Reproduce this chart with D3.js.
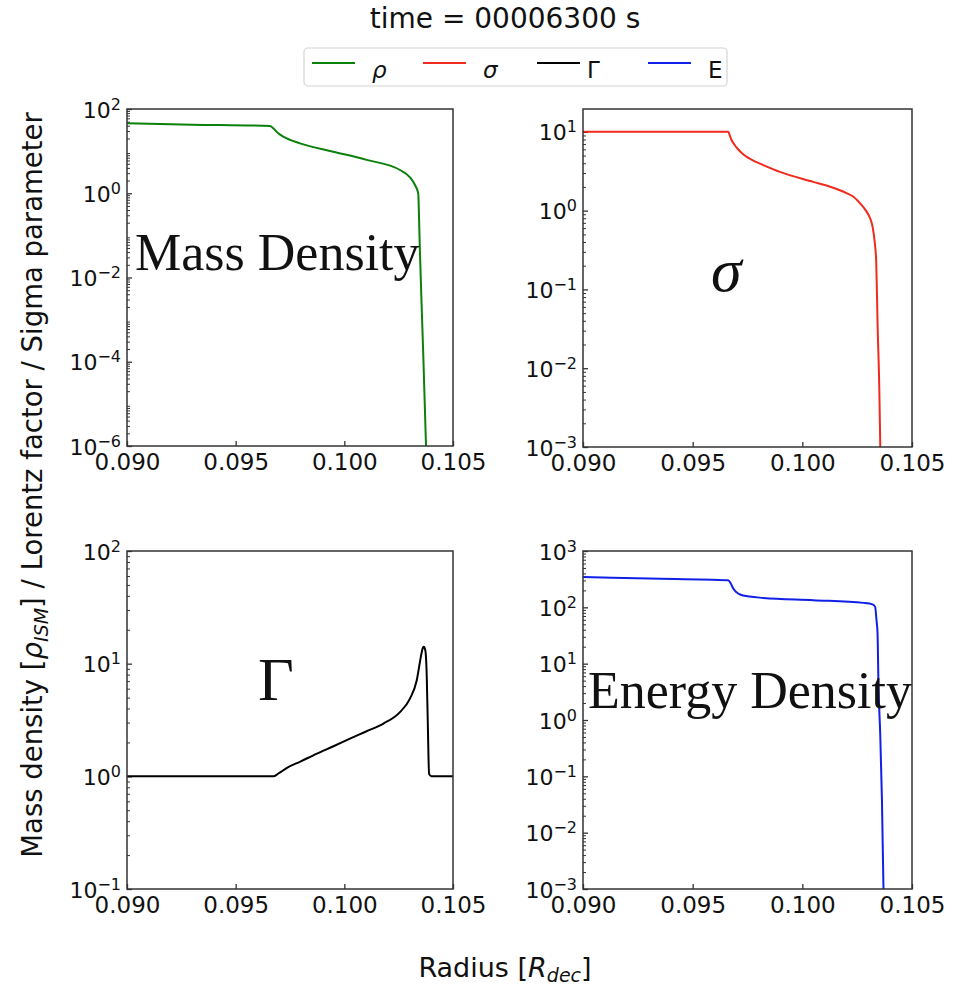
<!doctype html>
<html>
<head>
<meta charset="utf-8">
<script src="https://cdn.jsdelivr.net/npm/d3@7"></script>
<style>
  body { margin: 0; background: #fff; }
  svg text { font-family: "DejaVu Sans", sans-serif; fill: #111; }
</style>
</head>
<body>
<svg id="chart" width="969" height="988"></svg>
<script>
// --- data (radius in R_dec) ---
const xTicks = [0.090, 0.095, 0.100, 0.105];

const rhoR = [0.0900, 0.0930, 0.09658, 0.09673, 0.09696, 0.09719, 0.09796, 0.09949, 0.10103, 0.10256, 0.10302, 0.10325, 0.10340, 0.10344, 0.10348, 0.10363, 0.10375, 0.10390];
const rhoV = [45.7, 42.5, 39.5, 34.8, 26.5, 22, 15.3, 9.7, 6.2, 3.56, 2.39, 1.57, 1.0, 0.23, 0.038, 1.6e-4, 1.4e-6, 1e-8];

const sigR = [0.0900, 0.09662, 0.09668, 0.09676, 0.09690, 0.09705, 0.09730, 0.09770, 0.09822, 0.09898, 0.10050, 0.10127, 0.10203, 0.10233, 0.10264, 0.10290, 0.10308, 0.10320, 0.10330, 0.10337, 0.10343, 0.10351, 0.10356, 0.10362];
const sigV = [10, 10, 9.2, 8.0, 6.9, 6.1, 5.2, 4.4, 3.79, 3.1, 2.32, 2.01, 1.66, 1.5, 1.23, 1.0, 0.81, 0.63, 0.4, 0.22, 0.037, 0.0054, 0.0008, 1e-4];

const gamR = [0.0900, 0.09675, 0.09700, 0.09736, 0.09800, 0.09874, 0.09950, 0.10026, 0.10100, 0.10180, 0.10256, 0.10302, 0.10333, 0.10352, 0.10360, 0.10366, 0.10373, 0.10379, 0.10384, 0.10390, 0.10400, 0.1050];
const gamV = [1, 1, 1.07, 1.19, 1.36, 1.59, 1.85, 2.16, 2.5, 2.94, 3.72, 4.9, 7.1, 11.5, 13.6, 14.1, 13.0, 8, 3, 1.05, 1.0, 1.0];

const eR = [0.0900, 0.0930, 0.09662, 0.09675, 0.09685, 0.09700, 0.09716, 0.09760, 0.09822, 0.10051, 0.10279, 0.10320, 0.10332, 0.10338, 0.10343, 0.10347, 0.10355, 0.10363, 0.10370, 0.10376];
const eV = [346, 325, 302, 260, 215, 185, 169, 155, 147, 134, 120, 113, 102, 60, 34, 4.5, 0.58, 0.038, 1e-3, 2e-4];

const legendNames = ["ρ", "σ", "Γ", "E"];
const colors = ["#0b800b", "#f02a1c", "#000000", "#1020e6"];

// panel layout
const panels = [
  { x: 127, y: 109, w: 326, h: 337, r: rhoR, v: rhoV, c: colors[0], ydom: [1e-6, 1e2], major: [-6, -4, -2, 0, 2],
    note: "Mass Density", nx: 135, ny: 270, ns: 52, italic: false },
  { x: 583, y: 109, w: 329, h: 338, r: sigR, v: sigV, c: colors[1], ydom: [1e-3, Math.pow(10, 1.29)], major: [-3, -2, -1, 0, 1],
    note: "σ", nx: 711, ny: 291, ns: 62, italic: true },
  { x: 127, y: 551, w: 326, h: 338, r: gamR, v: gamV, c: colors[2], ydom: [1e-1, 1e2], major: [-1, 0, 1, 2],
    note: "Γ", nx: 258, ny: 700, ns: 62, italic: false },
  { x: 583, y: 551, w: 329, h: 338, r: eR, v: eV, c: colors[3], ydom: [1e-3, 1e3], major: [-3, -2, -1, 0, 1, 2, 3],
    note: "Energy Density", nx: 588, ny: 708, ns: 52, italic: false }
];

const svg = d3.select("#chart");

panels.forEach((p, i) => {
  const g = svg.append("g").attr("transform", `translate(${p.x},${p.y})`);
  const x = d3.scaleLinear().domain([0.090, 0.105]).range([0, p.w]);
  const y = d3.scaleLog().domain(p.ydom).range([p.h, 0]);

  g.append("clipPath").attr("id", "clip" + i)
    .append("rect").attr("width", p.w).attr("height", p.h);

  // minor log ticks
  const minors = [];
  for (let e = Math.floor(Math.log10(p.ydom[0])); e <= Math.ceil(Math.log10(p.ydom[1])); e++) {
    for (let s = 2; s <= 9; s++) {
      const val = s * Math.pow(10, e);
      if (val > p.ydom[0] && val < p.ydom[1]) minors.push(val);
    }
  }
  g.append("g")
    .call(d3.axisLeft(y).tickValues(minors).tickSize(-3).tickSizeOuter(0).tickFormat(""))
    .call(a => a.select(".domain").remove())
    .selectAll("line").attr("stroke", "#333").attr("stroke-width", 1);

  // major y ticks with 10^n labels
  const ya = g.append("g")
    .call(d3.axisLeft(y).tickValues(p.major.map(e => Math.pow(10, e)))
      .tickSize(-5).tickSizeOuter(0).tickPadding(6).tickFormat(""))
    .call(a => a.select(".domain").remove());
  ya.selectAll("line").attr("stroke", "#333").attr("stroke-width", 1.3);
  ya.selectAll("text")
    .attr("font-size", 22).attr("dy", null).attr("y", 8)
    .each(function(d) {
      const e = Math.round(Math.log10(d));
      const t = d3.select(this);
      t.append("tspan").text("10");
      t.append("tspan").attr("font-size", 16).attr("dy", -8)
        .text(e < 0 ? "\u2212" + (-e) : String(e));
    });

  // x axis
  const xa = g.append("g").attr("transform", `translate(0,${p.h})`)
    .call(d3.axisBottom(x).tickValues(xTicks).tickSize(-5).tickSizeOuter(0).tickPadding(8)
      .tickFormat(d3.format(".3f")))
    .call(a => a.select(".domain").remove());
  xa.selectAll("line").attr("stroke", "#333").attr("stroke-width", 1.3);
  xa.selectAll("text").attr("font-size", 23);

  // curve
  const line = d3.line()
    .x((d, k) => x(p.r[k]))
    .y(d => y(d))
    .curve(d3.curveMonotoneX);
  g.append("path")
    .datum(p.v)
    .attr("clip-path", `url(#clip${i})`)
    .attr("fill", "none")
    .attr("stroke", p.c)
    .attr("stroke-width", 2)
    .attr("d", line);

  // frame
  g.append("rect").attr("width", p.w).attr("height", p.h)
    .attr("fill", "none").attr("stroke", "#333").attr("stroke-width", 1.5);
});

// big panel notes (serif, drawn over curves)
panels.forEach(p => {
  svg.append("text")
    .attr("x", p.nx).attr("y", p.ny)
    .style("font-family", "'Liberation Serif', 'Times New Roman', serif")
    .style("font-style", p.italic ? "italic" : "normal")
    .attr("font-size", p.ns)
    .text(p.note);
});

// title
svg.append("text").attr("x", 505).attr("y", 28).attr("text-anchor", "middle")
  .attr("font-size", 28).text("time = 00006300 s");

// legend
const lg = svg.append("g");
lg.append("rect").attr("x", 304).attr("y", 48).attr("width", 423).attr("height", 38)
  .attr("rx", 4).attr("fill", "#fff").attr("stroke", "#d4d4d4").attr("stroke-width", 1.2);
const lx = [312, 423, 537, 648];
const tx = [372, 483, 587, 708];
legendNames.forEach((n, k) => {
  lg.append("line").attr("x1", lx[k]).attr("x2", lx[k] + 43).attr("y1", 63).attr("y2", 63)
    .attr("stroke", colors[k]).attr("stroke-width", 2);
  lg.append("text").attr("x", tx[k]).attr("y", 78).attr("font-size", 23)
    .style("font-style", k < 2 ? "italic" : "normal").text(n);
});

// axis labels
const yl = svg.append("text")
  .attr("transform", "translate(42,485) rotate(-90)")
  .attr("text-anchor", "middle").attr("font-size", 27.5);
yl.append("tspan").text("Mass density [");
yl.append("tspan").style("font-style", "italic").text("ρ");
yl.append("tspan").style("font-style", "italic").attr("font-size", 19).attr("dy", 6).text("ISM");
yl.append("tspan").attr("dy", -6).text("] / Lorentz factor / Sigma parameter");

const xl = svg.append("text").attr("x", 505).attr("y", 977).attr("text-anchor", "middle").attr("font-size", 27);
xl.append("tspan").text("Radius [");
xl.append("tspan").style("font-style", "italic").text("R");
xl.append("tspan").style("font-style", "italic").attr("font-size", 19).attr("dy", 5).text("dec");
xl.append("tspan").attr("dy", -5).text("]");
</script>
</body>
</html>
